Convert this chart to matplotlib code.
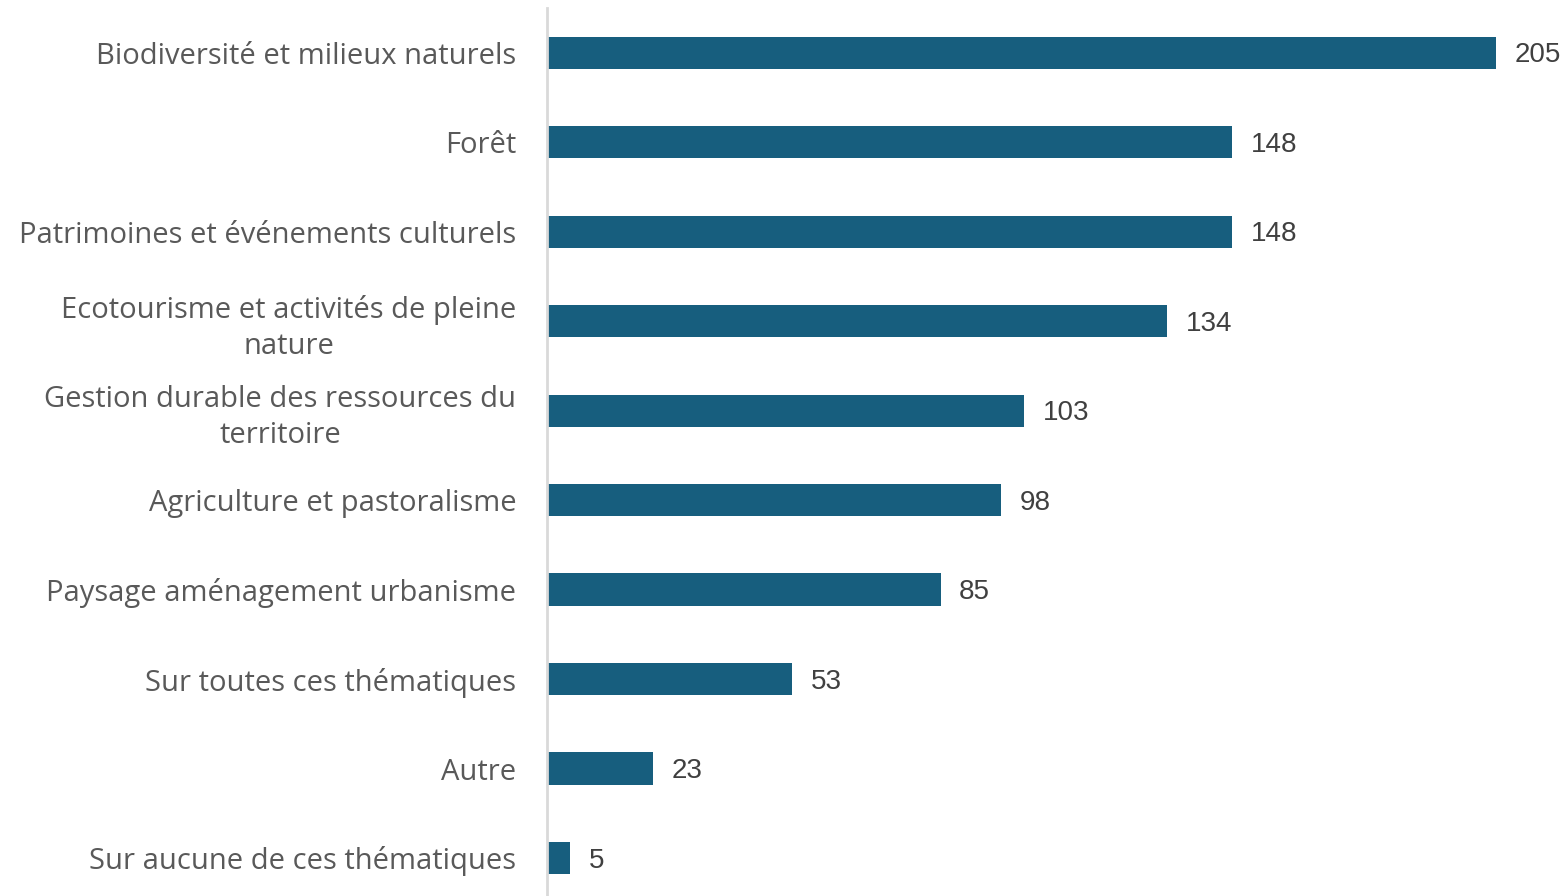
import matplotlib.pyplot as plt

categories = [
    "Biodiversité et milieux naturels",
    "Forêt",
    "Patrimoines et événements culturels",
    "Ecotourisme et activités de pleine\nnature",
    "Gestion durable des ressources du\nterritoire",
    "Agriculture et pastoralisme",
    "Paysage aménagement urbanisme",
    "Sur toutes ces thématiques",
    "Autre",
    "Sur aucune de ces thématiques",
]
values = [205, 148, 148, 134, 103, 98, 85, 53, 23, 5]

bar_color = "#175E7E"

fig = plt.figure(figsize=(15.67, 8.96), dpi=100)
ax = fig.add_axes([547 / 1567, 0, 1 - 547 / 1567, 888 / 896])

y = list(range(len(categories)))
ax.barh(y, values, height=0.36, color=bar_color)

ax.set_xlim(0, 1020 / 4.63)
ax.set_ylim(9.425, -0.5)

for yi, v in zip(y, values):
    ax.text(v + 4, yi + 0.03, str(v), va="center", ha="left",
            fontsize=20, color="#404040", family="Liberation Sans")

ax.set_yticks(y)
ax.set_yticklabels(categories, fontsize=21, color="#595959",
                   family="Open Sans", multialignment="center",
                   linespacing=1.3)
ax.tick_params(axis="y", length=0, pad=22)
ax.set_xticks([])

for s in ["top", "right", "bottom"]:
    ax.spines[s].set_visible(False)
ax.spines["left"].set_color("#D9D9D9")
ax.spines["left"].set_linewidth(2)

fig.savefig("out.png", dpi=100)
